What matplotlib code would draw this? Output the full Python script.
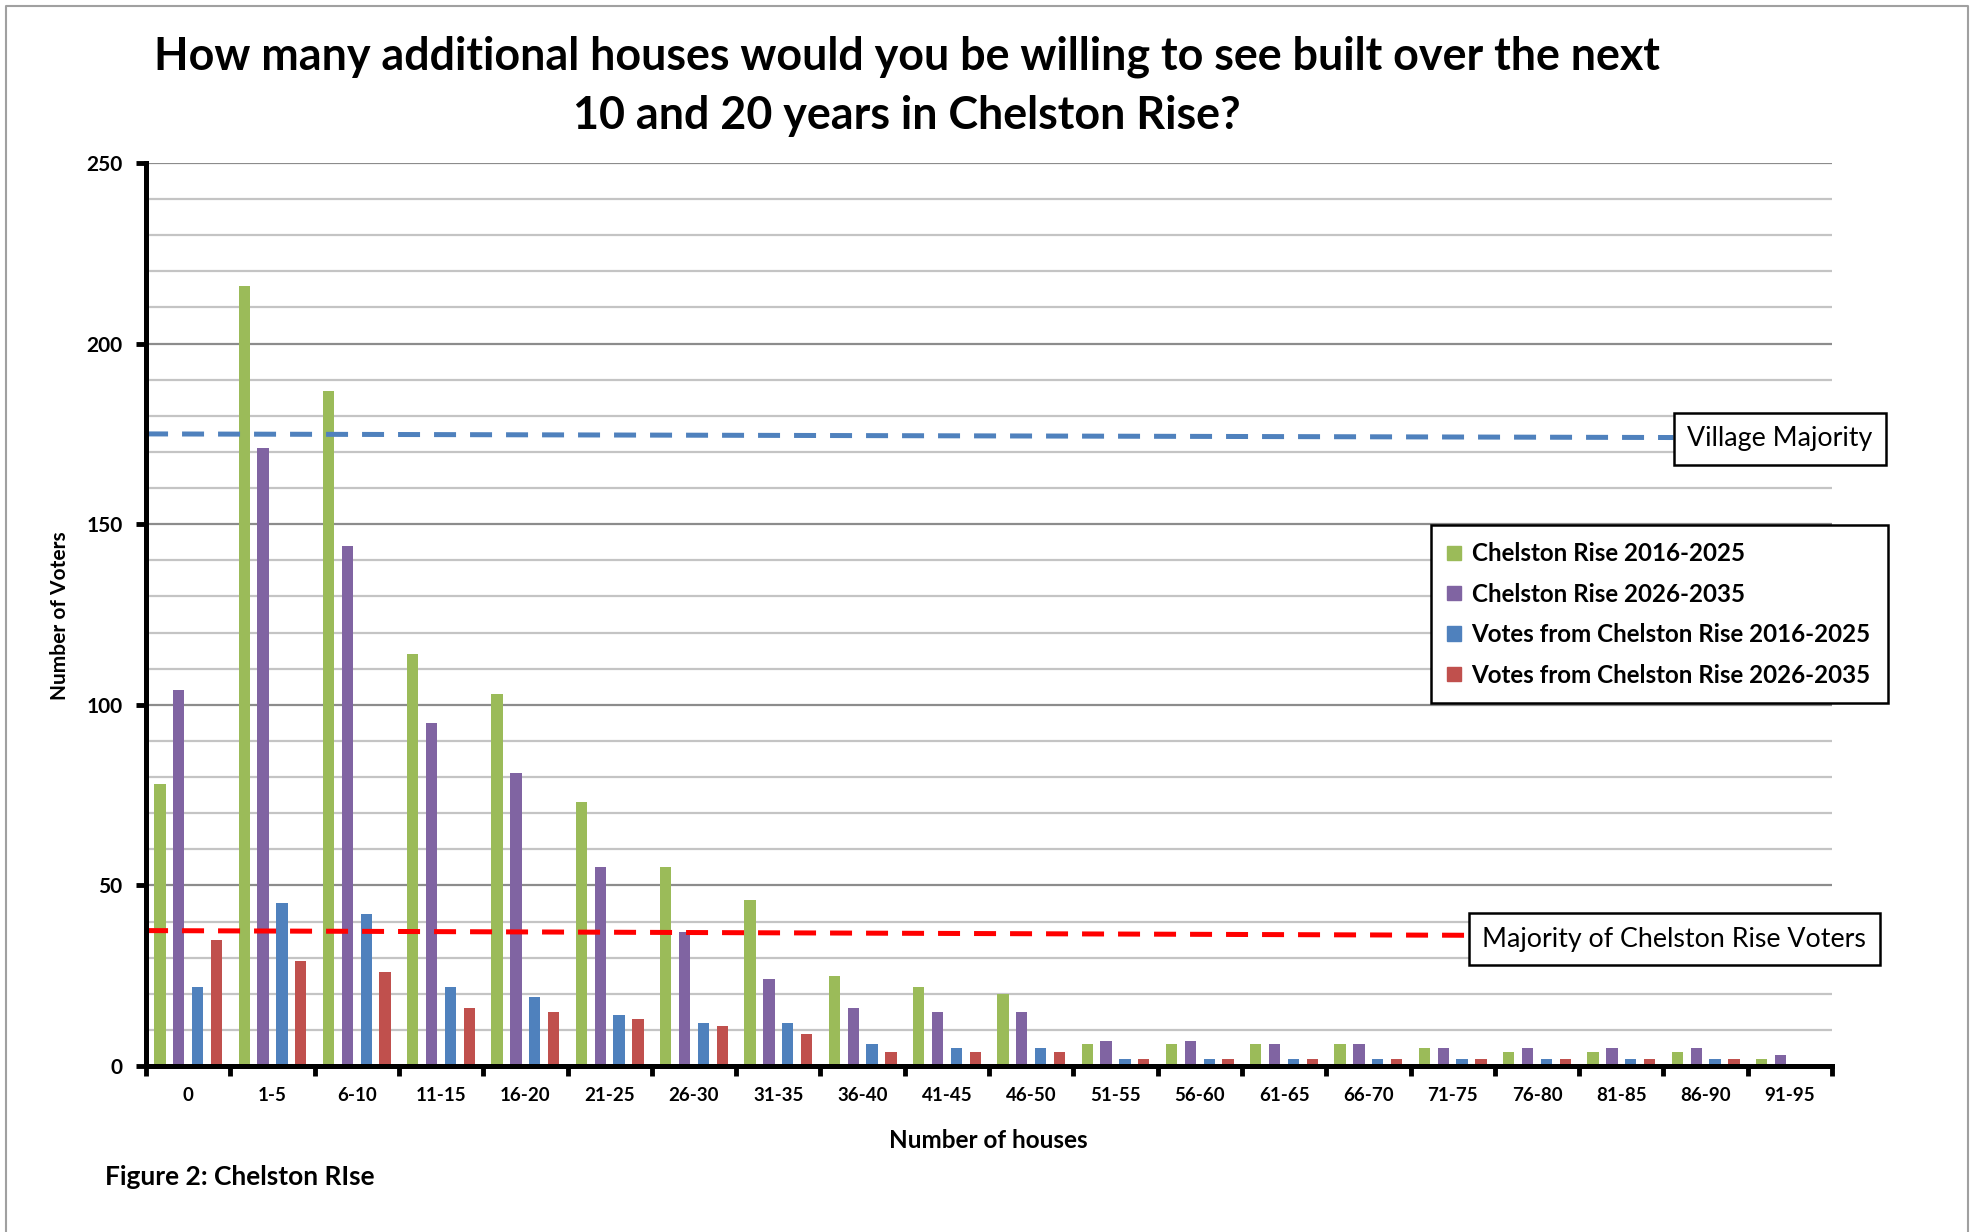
import matplotlib
matplotlib.use("Agg")
import matplotlib.pyplot as plt
import numpy as np
from matplotlib.patches import Patch

#-------data-------
categories = ["0", "1-5", "6-10", "11-15", "16-20", "21-25", "26-30", "31-35", "36-40",
              "41-45", "46-50", "51-55", "56-60", "61-65", "66-70", "71-75", "76-80",
              "81-85", "86-90", "91-95"]
cr_2016 = [78, 216, 187, 114, 103, 73, 55, 46, 25, 22, 20, 6, 6, 6, 6, 5, 4, 4, 4, 2]
cr_2026 = [104, 171, 144, 95, 81, 55, 37, 24, 16, 15, 15, 7, 7, 6, 6, 5, 5, 5, 5, 3]
votes_2016 = [22, 45, 42, 22, 19, 14, 12, 12, 6, 5, 5, 2, 2, 2, 2, 2, 2, 2, 2, 0]
votes_2026 = [35, 29, 26, 16, 15, 13, 11, 9, 4, 4, 4, 2, 2, 2, 2, 2, 2, 2, 2, 0]
series_names = ["Chelston Rise 2016-2025", "Chelston Rise 2026-2035",
                "Votes from Chelston Rise 2016-2025", "Votes from Chelston Rise 2026-2035"]
village_majority = [175, 174]      # dashed line, left end / right end
chelston_majority = [37.5, 36.2]

colors = ["#9bbb59", "#8064a2", "#4f81bd", "#c0504d"]
FONT = "Lato"
plt.rcParams['font.family'] = [FONT, 'DejaVu Sans']

fig = plt.figure(figsize=(19.71, 12.32), dpi=100)
ax = fig.add_axes([0.0741, 0.1347, 0.9295 - 0.0741, 0.8677 - 0.1347])

x = np.arange(len(categories))
pitch = 0.224
width = 0.134
for i, vals in enumerate([cr_2016, cr_2026, votes_2016, votes_2026]):
    ax.bar(x + (i - 1.5) * pitch, vals, width, color=colors[i], zorder=3)

#-------gridlines every 10, darker on 50s-------
for v in range(10, 251, 10):
    c = "#8c8c8c" if v % 50 == 0 else "#c4c4c4"
    ax.axhline(v, color=c, lw=1.6, zorder=1)

ax.set_xlim(-0.5, len(categories) - 0.5)
ax.set_ylim(0, 250)
ax.set_yticks(range(0, 251, 50))
ax.set_xticks(np.arange(-0.5, len(categories), 1))
ax.set_xticklabels([])
ax.set_xticks(x, minor=True)
ax.set_xticklabels(categories, minor=True)
ax.tick_params(axis='x', which='minor', length=0, pad=15)
ax.tick_params(axis='x', which='major', length=7, width=3.5, direction='out')
ax.tick_params(axis='y', length=7, width=3.5, direction='out', pad=10)
for lab in ax.get_xticklabels(minor=True):
    lab.set_fontsize(13.5)
    lab.set_fontweight('bold')
for lab in ax.get_yticklabels():
    lab.set_fontsize(15)
    lab.set_fontweight('bold')

for s in ["top", "right"]:
    ax.spines[s].set_visible(False)
for s in ["left", "bottom"]:
    ax.spines[s].set_linewidth(3.6)
    ax.spines[s].set_zorder(5)

#-------majority lines with their labels-------
ax.plot([-0.5, 17.62], village_majority, color="#4f81bd", lw=3.6,
        dashes=(4.4, 2.8), zorder=4, dash_capstyle='butt')
ax.plot([-0.5, 15.19], chelston_majority, color="#ff0000", lw=3.6,
        dashes=(4.4, 2.8), zorder=4, dash_capstyle='butt')
ax.text(18.88, 173.6, "Village Majority", ha='center', va='center', fontsize=19.3,
        clip_on=False, zorder=6,
        bbox=dict(boxstyle='square,pad=0.5', fc='white', ec='black', lw=1.8))
ax.text(17.63, 35.1, "Majority of Chelston Rise Voters", ha='center', va='center',
        fontsize=19.3, clip_on=False, zorder=6,
        bbox=dict(boxstyle='square,pad=0.5', fc='white', ec='black', lw=1.8))

handles = [Patch(color=c) for c in colors]
leg = fig.legend(handles, series_names, loc='upper left', bbox_to_anchor=(0.7258, 0.5735),
                 prop=dict(family=FONT, weight='bold', size=17.4), frameon=True, fancybox=False,
                 edgecolor='black', framealpha=1, handlelength=0.55, handleheight=0.55,
                 labelspacing=0.72, borderpad=0.7, handletextpad=0.45, borderaxespad=0)
leg.get_frame().set_linewidth(1.8)

fig.text(988 / 1971, 1 - 1141 / 1232, "Number of houses", ha='center', va='center',
         fontsize=17.5, fontweight='bold')
fig.text(60 / 1971, 1 - 616 / 1232, "Number of Voters", ha='center', va='center',
         rotation=90, fontsize=15, fontweight='bold')

fig.text(0.460, 0.9298, "How many additional houses would you be willing to see built over the next\n"
         "10 and 20 years in Chelston Rise?", ha='center', va='center', fontsize=32.3,
         fontweight='bold', linespacing=1.49)
fig.text(105 / 1971, 1 - 1177 / 1232, "Figure 2: Chelston RIse", ha='left', va='center',
         fontsize=19, fontweight='bold')

# thin grey frame around the chart
fig.add_artist(plt.Line2D([6 / 1971, 6 / 1971, 1968 / 1971, 1968 / 1971],
                          [0, 1 - 6 / 1232, 1 - 6 / 1232, 0], color="#a0a0a0", lw=1.5,
                          transform=fig.transFigure))

fig.savefig("out.png", dpi=100)
